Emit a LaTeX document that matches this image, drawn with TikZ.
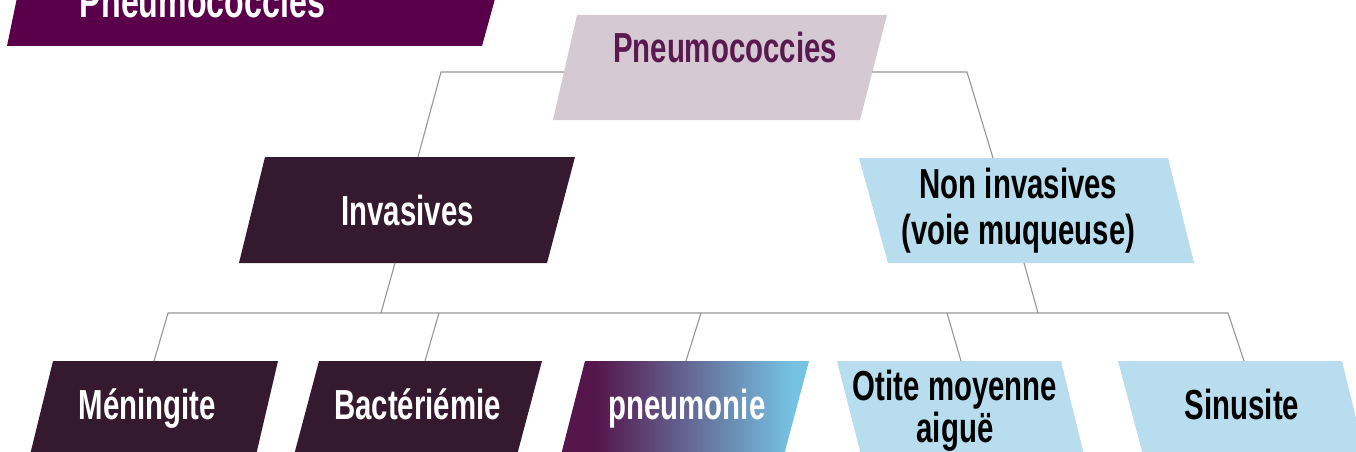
\documentclass[tikz,border=0pt]{standalone}
\usepackage{fontspec}
\newfontfamily\osw[FakeStretch=0.70]{Liberation Sans}
\definecolor{banner}{RGB}{90,0,75}
\definecolor{topbox}{RGB}{213,202,211}
\definecolor{toptext}{RGB}{90,26,79}
\definecolor{darkbox}{RGB}{53,26,47}
\definecolor{lightbox}{RGB}{184,221,238}
\definecolor{pdark}{RGB}{85,22,76}
\definecolor{pblue}{RGB}{117,194,227}
\definecolor{linkgray}{RGB}{150,150,150}
\pgfdeclarehorizontalshading{pneushade}{100bp}{color(0bp)=(pdark); color(32bp)=(pdark); color(71.5bp)=(pblue); color(100bp)=(pblue)}
\tikzset{
  lbl/.style={anchor=base, inner sep=0pt, align=center, font=\osw\bfseries\fontsize{42}{42}\selectfont},
  link/.style={draw=linkgray, line width=1.1pt},
}
\begin{document}
\begin{tikzpicture}[x=1pt,y=-1pt]
\useasboundingbox (0,0) rectangle (1356,452);
\clip (0,0) rectangle (1356,452);
% banner
\fill[banner] (7,46) -- (482,46) -- (498,-12) -- (19,-12) -- cycle;
\node[lbl, text=white, font=\osw\bfseries\fontsize{46}{46}\selectfont] (ban) at (202.5,18) {Pneumococcies};
% shapes
\fill[topbox] (577,15) -- (887,15) -- (860,120) -- (553,120) -- cycle;
\fill[darkbox] (265,157) -- (575,157) -- (547,263) -- (239,263) -- cycle;
\fill[lightbox] (859,158) -- (1168,158) -- (1194,263) -- (888,263) -- cycle;
\fill[darkbox] (53,361) -- (278,361) -- (256,455) -- (30,455) -- cycle;
\fill[darkbox] (319,361) -- (542,361) -- (517,455) -- (294,455) -- cycle;
\shade[shading=pneushade] (585,361) -- (809,361) -- (784,455) -- (561,455) -- cycle;
\fill[lightbox] (837,361) -- (1061,361) -- (1084,455) -- (861,455) -- cycle;
\fill[lightbox] (1118,361) -- (1342,361) -- (1365,455) -- (1143,455) -- cycle;
% labels
\node[lbl, text=toptext] (root) at (725,63) {Pneumococcies};
\node[lbl, text=white] (inv) at (407.5,225) {Invasives};
\node[lbl, text=black] (non) at (1018.5,244) {Non invasives\\[4pt](voie muqueuse)};
\node[lbl, text=white] (men) at (147.5,419) {Méningite};
\node[lbl, text=white] (bac) at (417.5,419) {Bactériémie};
\node[lbl, text=white] (pne) at (687,419) {pneumonie};
\node[lbl, text=black] (oti) at (955,442) {Otite moyenne\\aiguë};
\node[lbl, text=black] (sin) at (1242,419) {Sinusite};
% connector anchors
\coordinate (root-l) at (564,72);
\coordinate (root-r) at (872,72);
\coordinate (inv-t) at (418,157);
\coordinate (non-t) at (993,158);
\coordinate (inv-b) at (395,263);
\coordinate (non-b) at (1024,263);
\coordinate (men-t) at (154,361);
\coordinate (bac-t) at (425,361);
\coordinate (pne-t) at (686,361);
\coordinate (oti-t) at (961,361);
\coordinate (sin-t) at (1244,361);
% connectors
\draw[link] (root-l) -- (441,72) -- (inv-t);
\draw[link] (root-r) -- (967,72) -- (non-t);
\draw[link] (inv-b) -- (381,313);
\draw[link] (non-b) -- (1038,313);
\draw[link] (men-t) -- (168,313) -- (1228,313) -- (sin-t);
\draw[link] (bac-t) -- (439,313);
\draw[link] (pne-t) -- (701,313);
\draw[link] (oti-t) -- (947,313);
\end{tikzpicture}
\end{document}
